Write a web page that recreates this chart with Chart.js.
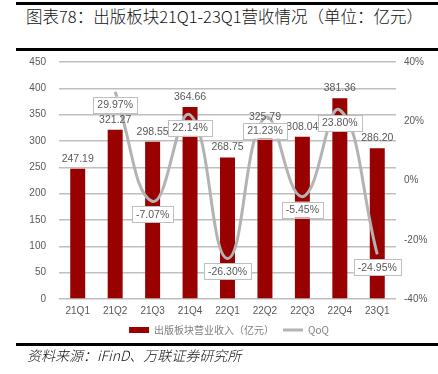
<!DOCTYPE html>
<html>
<head>
<meta charset="utf-8">
<script src="https://cdn.jsdelivr.net/npm/chart.js@4.4.0/dist/chart.umd.min.js"></script>
<style>
    body { margin: 0; background: #fff; }
    #wrap { position: relative; width: 438px; height: 374px; overflow: hidden; }
    #chart { position: absolute; left: 0; top: 0; }
    .rule { position: absolute; left: 16px; right: 0; height: 3px; background: #000; }
    #title { position: absolute; left: 26px; top: 5px; font: 300 16.5px "Noto Sans CJK SC", sans-serif; line-height: 22px; white-space: nowrap; color: #111; }
    #source { position: absolute; left: 27px; top: 346px; font: italic 300 14px "Noto Sans CJK SC", sans-serif; line-height: 18px; white-space: nowrap; color: #111; }
</style>
</head>
<body>
<div id="wrap">
    <div class="rule" style="top:2px"></div>
    <div id="title">图表78：出版板块21Q1-23Q1营收情况（单位：亿元）</div>
    <div class="rule" style="top:48px"></div>
    <canvas id="chart" width="438" height="374"></canvas>
    <div class="rule" style="top:343px"></div>
    <div id="source">资料来源：iFinD、万联证券研究所</div>
</div>
<script>
    const quarters = ['21Q1', '21Q2', '21Q3', '21Q4', '22Q1', '22Q2', '22Q3', '22Q4', '23Q1'];
    const revenue = [247.19, 321.27, 298.55, 364.66, 268.75, 325.79, 308.04, 381.36, 286.20];
    const qoq = [null, 29.97, -7.07, 22.14, -26.30, 21.23, -5.45, 23.80, -24.95];
    const leftTicks = [0, 50, 100, 150, 200, 250, 300, 350, 400, 450];
    const rightTicks = [-40, -20, 0, 20, 40];

    const grey = '#595959';
    const tickFont = { family: 'Arial, "Liberation Sans", sans-serif', size: 10 };

    // value labels over bars and boxed labels under line points
    const labelPlugin = {
        id: 'valueLabels',
        afterDatasetsDraw: function(chart) {
            const ctx = chart.ctx;
            ctx.save();
            ctx.font = '10.5px Arial, "Liberation Sans", sans-serif';
            ctx.textAlign = 'center';
            ctx.textBaseline = 'middle';

            const barMeta = chart.getDatasetMeta(0);
            barMeta.data.forEach(function(bar, i) {
                ctx.fillStyle = grey;
                ctx.fillText(revenue[i].toFixed(2), bar.x, bar.y - 10);
            });

            const lineMeta = chart.getDatasetMeta(1);
            lineMeta.data.forEach(function(pt, i) {
                if (qoq[i] === null) return;
                const txt = qoq[i].toFixed(2) + '%';
                const w = ctx.measureText(txt).width + 8;
                const h = 16;
                const cy = pt.y + 13;
                ctx.fillStyle = '#fff';
                ctx.fillRect(pt.x - w / 2, cy - h / 2, w, h);
                ctx.strokeStyle = '#bfbfbf';
                ctx.lineWidth = 1;
                ctx.strokeRect(Math.round(pt.x - w / 2) + 0.5, Math.round(cy - h / 2) + 0.5, Math.round(w), h);
                ctx.fillStyle = grey;
                ctx.fillText(txt, pt.x, cy + 0.5);
            });
            ctx.restore();
        }
    };

    new Chart(document.getElementById('chart'), {
        data: {
            labels: quarters,
            datasets: [{
                type: 'bar',
                label: '出版板块营业收入（亿元）',
                data: revenue,
                backgroundColor: '#990000',
                barPercentage: 0.4,
                categoryPercentage: 1,
                yAxisID: 'y',
                order: 2
            }, {
                type: 'line',
                label: 'QoQ',
                data: qoq,
                borderColor: '#b3b3b3',
                backgroundColor: '#b3b3b3',
                borderWidth: 3,
                tension: 0.45,
                pointRadius: 0,
                yAxisID: 'y1',
                order: 1
            }]
        },
        options: {
            responsive: false,
            animation: false,
            layout: { padding: { top: 62, left: 20, right: 0, bottom: 29 } },
            plugins: {
                tooltip: { enabled: false },
                legend: {
                    position: 'bottom',
                    labels: {
                        usePointStyle: true,
                        pointStyleWidth: 20,
                        boxWidth: 20,
                        boxHeight: 6,
                        padding: 4,
                        color: '#7f7f7f',
                        font: { family: '"Noto Sans CJK SC", sans-serif', size: 10 },
                        sort: function(a, b) { return a.datasetIndex - b.datasetIndex; },
                        generateLabels: function(chart) {
                            const items = Chart.defaults.plugins.legend.labels.generateLabels(chart);
                            items.forEach(function(it) {
                                if (it.datasetIndex === 0) {
                                    it.pointStyle = 'rect';
                                    it.lineWidth = 0;
                                    it.text = it.text + '\u3000';
                                } else {
                                    it.pointStyle = 'line';
                                    it.lineWidth = 3;
                                }
                            });
                            return items;
                        }
                    }
                }
            },
            scales: {
                x: {
                    grid: { display: false, drawTicks: false },
                    border: { display: false },
                    ticks: { color: grey, font: tickFont, padding: 6 },
                    afterFit: function(scale) { scale.height = 22; }
                },
                y: {
                    position: 'left',
                    min: 0,
                    max: 450,
                    afterBuildTicks: function(scale) { scale.ticks = leftTicks.map(function(v) { return { value: v }; }); },
                    grid: { color: '#bfbfbf', lineWidth: 1.5, drawTicks: false },
                    border: { display: false },
                    ticks: { color: grey, font: tickFont, padding: 13 },
                    afterFit: function(scale) { scale.width = 39; }
                },
                y1: {
                    position: 'right',
                    min: -40,
                    max: 40,
                    afterBuildTicks: function(scale) { scale.ticks = rightTicks.map(function(v) { return { value: v }; }); },
                    grid: { display: false, drawTicks: false },
                    border: { display: false },
                    ticks: { color: grey, font: tickFont, padding: 8, callback: function(v) { return v + '%'; } },
                    afterFit: function(scale) { scale.width = 42; }
                }
            }
        },
        plugins: [labelPlugin]
    });
</script>
</body>
</html>
